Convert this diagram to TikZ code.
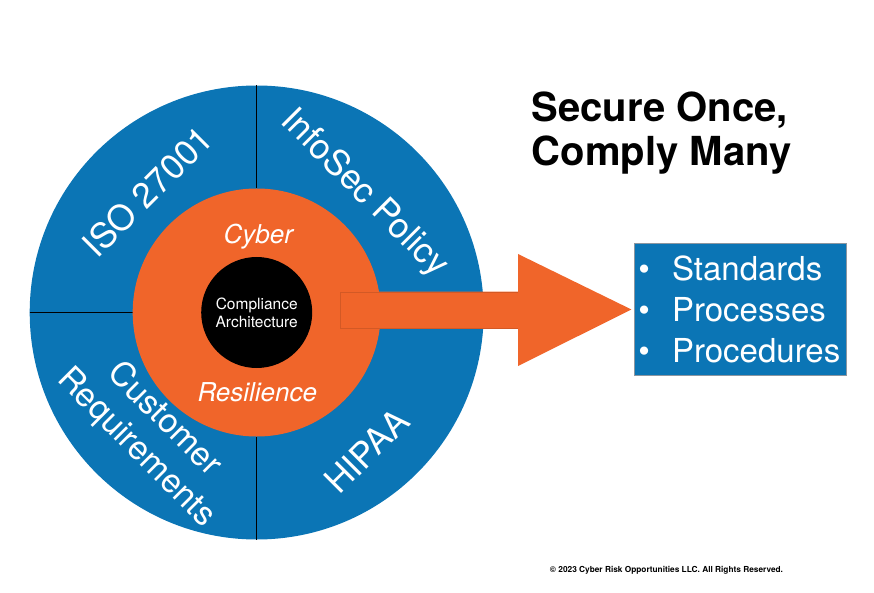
\documentclass[tikz,border=0pt]{standalone}
\usepackage{fontspec}
\setmainfont{TeX Gyre Heros}
\usepackage{tikz}
\usetikzlibrary{positioning}

\definecolor{ringblue}{HTML}{0B75B5}
\definecolor{huborange}{HTML}{F0652A}
\definecolor{boxedge}{HTML}{8C96A0}

\tikzset{
	disc/.style={circle, inner sep=0pt, minimum size=#1},
	divider/.style={draw=black, line width=0.8pt},
	sector/.style={text=white, align=center, inner sep=0pt, font=\fontsize{35}{40.5}\selectfont},
	ringword/.style={text=white, inner sep=0pt, font=\itshape\fontsize{26}{30}\selectfont},
	listbox/.style={rectangle, fill=ringblue, draw=boxedge, line width=1pt, minimum width=211.7pt, minimum height=131pt, text width=205pt, inner xsep=3pt, align=left, text=white, font=\fontsize{33}{41}\selectfont}
}

\newcommand{\bulletitem}[1]{\makebox[33.7pt][l]{\textbullet}#1}

\begin{document}
\begin{tikzpicture}[x=1pt,y=-1pt]
		
		\useasboundingbox (0,0) rectangle (874,593);
		
		\node[disc=454pt, fill=ringblue] (ring) at (256.7,312.5) {};
		
		\node[disc=248pt] (hubedge) at (ring.center) {};
		
		\draw[divider] (ring.north) -- (hubedge.north)
		(hubedge.south) -- (ring.south)
		(ring.west) -- (hubedge.west);
		
		\node[disc=248pt, fill=huborange] (hub) at (ring.center) {};
		
		\node[disc=111pt, fill=black, text=white, align=center, font=\fontsize{15.5}{18}\selectfont] (core) at (ring.center) {Compliance\\Architecture};
		
		\node[listbox] (list) at (740.8,309.5) {\bulletitem{Standards}\\\bulletitem{Processes}\\\bulletitem{Procedures}};
		
		\fill[huborange] (340,291.7) -- (518,291.7) -- (518,254) -- ([xshift=-3pt]list.west) -- (518,366) -- (518,328.3) -- (340,328.3) -- cycle;
		
		\draw[huborange!88!black, line width=0.4pt] (518,291.7) -- (340,291.7) -- (340,328.3) -- (518,328.3);
		
		\node[ringword, anchor=base] (cyber) at (258.3,243.3) {Cyber};
		
		\node[ringword, anchor=base] (resilience) at (257.3,401.7) {Resilience};
		
		\node[sector, rotate=45] (iso) at (147.5,191.5) {ISO 27001};
		
		\node[sector, rotate=-45] (infosec) at (364,193.5) {InfoSec Policy};
		
		\node[sector, rotate=45] (hipaa) at (366.7,450.8) {HIPAA};
		
		\node[sector, rotate=-45, font=\fontsize{33.5}{40}\selectfont] (customer) at (150,434) {Customer\\Requirements};
		
		\node[align=left, inner sep=0pt, font=\bfseries\fontsize{40}{43.5}\selectfont] (title) at (661.5,133) {Secure Once,\\Comply Many};
		
		\node[inner sep=0pt, font=\bfseries\fontsize{8.3}{10}\selectfont] (rights) at (666.5,570.5) {© 2023 Cyber Risk Opportunities LLC. All Rights Reserved.};
		
\end{tikzpicture}
\end{document}
